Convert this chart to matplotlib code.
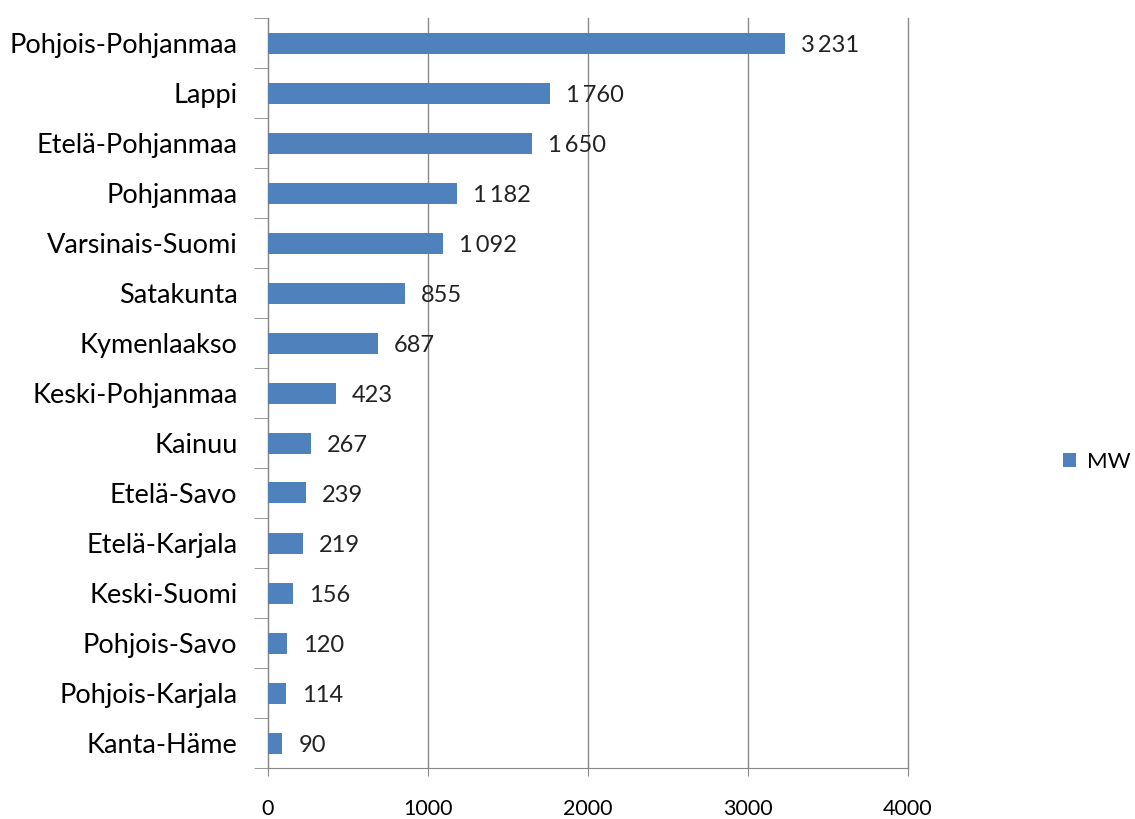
import matplotlib
matplotlib.use("Agg")
import matplotlib.pyplot as plt
import numpy as np

regions = ["Pohjois-Pohjanmaa", "Lappi", "Etelä-Pohjanmaa", "Pohjanmaa", "Varsinais-Suomi",
           "Satakunta", "Kymenlaakso", "Keski-Pohjanmaa", "Kainuu", "Etelä-Savo",
           "Etelä-Karjala", "Keski-Suomi", "Pohjois-Savo", "Pohjois-Karjala", "Kanta-Häme"]
mw = [3231, 1760, 1650, 1182, 1092, 855, 687, 423, 267, 239, 219, 156, 120, 114, 90]
xticks = [0, 1000, 2000, 3000, 4000]

plt.rcParams['font.family'] = ['Lato', 'DejaVu Sans']
fig = plt.figure(figsize=(11.35, 8.19), dpi=100)
ax = fig.add_axes([268/1135, 51/819, 640/1135, 750/819])

y = np.arange(len(regions))
bars = ax.barh(y, mw, height=0.42, color='#4F81BD', label='MW', zorder=3)
ax.set_ylim(len(regions) - 0.5, -0.5)
ax.set_xlim(0, 4000)
ax.set_xticks(xticks)
ax.set_xticklabels([str(t) for t in xticks], fontsize=15.5)
ax.set_yticks(y)
ax.set_yticklabels(regions, fontsize=19.5)
ax.tick_params(axis='y', which='major', length=0, pad=22)
ax.set_yticks(np.arange(-0.5, len(regions)), minor=True)
ax.tick_params(axis='y', which='minor', length=10, color='#888888', direction='out')
ax.tick_params(axis='x', length=6, color='#888888', pad=16)
ax.grid(axis='x', color='#888888', linewidth=1, zorder=0)
for gl in ax.get_xgridlines():
    gl.set_clip_on(False)
for s in ['top', 'right']:
    ax.spines[s].set_visible(False)
for s in ['left', 'bottom']:
    ax.spines[s].set_color('#888888')

for yi, v in zip(y, mw):
    lab = f"{v:,}".replace(",", "\u2009")
    ax.text(v + 100, yi + 0.06, lab, va='center', ha='left', fontsize=17, color='#222222')

fig.legend(handles=[bars], labels=['MW'], loc='center left', bbox_to_anchor=(1063/1135, 1 - 462/819),
           frameon=False, fontsize=16, handlelength=0.6, handleheight=0.6, handletextpad=0.5,
           borderpad=0, borderaxespad=0)
fig.savefig('out.png', dpi=100)
